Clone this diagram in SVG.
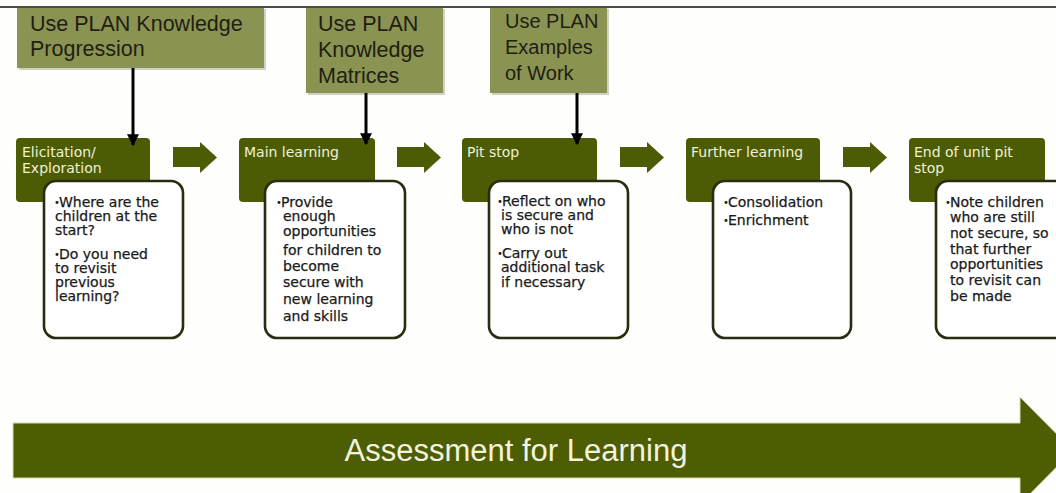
<svg xmlns="http://www.w3.org/2000/svg" width="1056" height="493" viewBox="0 0 1056 493">
  <defs>
    <style>
      .plan { fill: #8a9352; }
      .plan-shadow { fill: #a9ab92; opacity: 0.55; }
      .plan-text { font-family: "Liberation Sans", Arial, sans-serif; font-size: 21.5px; fill: #1f2012; }
      .stage { fill: #4c5c05; }
      .stage-text { font-family: "DejaVu Sans", Verdana, sans-serif; font-size: 14px; fill: #f1f1d6; }
      .notes { fill: #ffffff; stroke: #2a2c10; stroke-width: 2.6; }
      .note-text { font-family: "DejaVu Sans", Verdana, sans-serif; font-size: 14px; fill: #1a1a1a; stroke: #1a1a1a; stroke-width: 0.25; }
      .bullet { font-family: "DejaVu Sans", Verdana, sans-serif; font-size: 10px; fill: #1a1a1a; }
      .step { fill: #4c5c05; }
      .drop { stroke: #000000; stroke-width: 3; fill: none; }
      .band { fill: #4d5d04; stroke: #dcdcb4; stroke-width: 1; }
      .band-text { font-family: "Liberation Sans", Arial, sans-serif; font-size: 31px; fill: #f3f3de; text-anchor: middle; }
    </style>
    <marker id="drop-head" viewBox="0 0 10 10" refX="9" refY="5" markerWidth="4" markerHeight="4" markerUnits="strokeWidth" orient="auto">
      <path d="M0,0 L10,5 L0,10 Z" fill="#000000"/>
    </marker>
  </defs>

  <rect x="0" y="0" width="1056" height="493" fill="#fefefd"/>

  <!-- header rule -->
  <line x1="0" y1="7" x2="1056" y2="7" stroke="#111111" stroke-width="1.6"/>

  <!-- PLAN resource boxes -->
  <g id="plan-progression">
    <rect class="plan-shadow" x="19" y="9" width="247" height="61"/>
    <rect class="plan" x="17" y="8" width="247" height="60"/>
    <text class="plan-text" x="30" y="31">Use PLAN Knowledge</text>
    <text class="plan-text" x="30" y="56">Progression</text>
  </g>

  <g id="plan-matrices">
    <rect class="plan-shadow" x="308" y="9" width="137" height="86"/>
    <rect class="plan" x="306" y="8" width="137" height="85"/>
    <text class="plan-text" x="318" y="31">Use PLAN</text>
    <text class="plan-text" x="318" y="57">Knowledge</text>
    <text class="plan-text" x="318" y="83">Matrices</text>
  </g>

  <g id="plan-examples">
    <rect class="plan-shadow" x="492" y="9" width="117" height="86"/>
    <rect class="plan" x="490" y="8" width="117" height="85"/>
    <text class="plan-text" x="505" y="28" style="font-size:20px">Use PLAN</text>
    <text class="plan-text" x="505" y="54" style="font-size:20px">Examples</text>
    <text class="plan-text" x="505" y="80" style="font-size:20px">of Work</text>
  </g>

  <!-- stage: elicitation -->
  <g id="stage-elicitation">
    <rect class="stage" x="16" y="138" width="134" height="64" rx="4"/>
    <text class="stage-text" x="22" y="157">Elicitation/</text>
    <text class="stage-text" x="22" y="173">Exploration</text>
    <rect class="notes" x="44" y="181" width="139" height="157" rx="12"/>
    <text class="bullet" x="54" y="206">•</text>
    <text class="note-text" x="59" y="207">Where are the</text>
    <text class="note-text" x="55" y="221">children at the</text>
    <text class="note-text" x="55" y="235">start?</text>
    <text class="bullet" x="54" y="258">•</text>
    <text class="note-text" x="59" y="259">Do you need</text>
    <text class="note-text" x="55" y="273">to revisit</text>
    <text class="note-text" x="55" y="287">previous</text>
    <text class="note-text" x="55" y="301">learning?</text>
  </g>

  <!-- stage: main learning -->
  <g id="stage-main-learning">
    <rect class="stage" x="239" y="138" width="136" height="64" rx="4"/>
    <text class="stage-text" x="244" y="157">Main learning</text>
    <rect class="notes" x="265" y="181" width="140" height="157" rx="12"/>
    <text class="bullet" x="276" y="206">•</text>
    <text class="note-text" x="281" y="207">Provide</text>
    <text class="note-text" x="283" y="221">enough</text>
    <text class="note-text" x="283" y="236">opportunities</text>
    <text class="note-text" x="283" y="255">for children to</text>
    <text class="note-text" x="283" y="271">become</text>
    <text class="note-text" x="283" y="287">secure with</text>
    <text class="note-text" x="283" y="304">new learning</text>
    <text class="note-text" x="283" y="321">and skills</text>
  </g>

  <!-- stage: pit stop -->
  <g id="stage-pit-stop">
    <rect class="stage" x="462" y="138" width="135" height="64" rx="4"/>
    <text class="stage-text" x="467" y="157">Pit stop</text>
    <rect class="notes" x="489" y="181" width="139" height="157" rx="12"/>
    <text class="bullet" x="497" y="205">•</text>
    <text class="note-text" x="502" y="206">Reflect on who</text>
    <text class="note-text" x="501" y="220">is secure and</text>
    <text class="note-text" x="501" y="234">who is not</text>
    <text class="bullet" x="497" y="257">•</text>
    <text class="note-text" x="502" y="258">Carry out</text>
    <text class="note-text" x="501" y="272">additional task</text>
    <text class="note-text" x="501" y="287">if necessary</text>
  </g>

  <!-- stage: further learning -->
  <g id="stage-further-learning">
    <rect class="stage" x="686" y="138" width="134" height="64" rx="4"/>
    <text class="stage-text" x="691" y="157">Further learning</text>
    <rect class="notes" x="713" y="181" width="138" height="157" rx="12"/>
    <text class="bullet" x="723" y="206">•</text>
    <text class="note-text" x="728" y="207">Consolidation</text>
    <text class="bullet" x="723" y="224">•</text>
    <text class="note-text" x="728" y="225">Enrichment</text>
  </g>

  <!-- stage: end of unit pit stop -->
  <g id="stage-end-of-unit">
    <rect class="stage" x="909" y="138" width="136" height="64" rx="4"/>
    <text class="stage-text" x="914" y="157">End of unit pit</text>
    <text class="stage-text" x="914" y="173">stop</text>
    <rect class="notes" x="936" y="181" width="140" height="157" rx="12"/>
    <text class="bullet" x="945" y="206">•</text>
    <text class="note-text" x="950" y="207">Note children</text>
    <text class="note-text" x="950" y="222">who are still</text>
    <text class="note-text" x="950" y="238">not secure, so</text>
    <text class="note-text" x="950" y="254">that further</text>
    <text class="note-text" x="950" y="269">opportunities</text>
    <text class="note-text" x="950" y="285">to revisit can</text>
    <text class="note-text" x="950" y="301">be made</text>
  </g>

  <!-- connectors -->
  <g id="connectors">
    <line class="drop" x1="133" y1="68" x2="133" y2="145" marker-end="url(#drop-head)"/>
    <line class="drop" x1="366" y1="93" x2="366" y2="144" marker-end="url(#drop-head)"/>
    <line class="drop" x1="577" y1="93" x2="577" y2="144" marker-end="url(#drop-head)"/>

    <polygon class="step" points="173,147 200,147 200,142 217,157.5 200,173 200,167 173,167"/>
    <polygon class="step" points="397,147 424,147 424,142 441,157.5 424,173 424,167 397,167"/>
    <polygon class="step" points="620,147 647,147 647,142 664,157.5 647,173 647,167 620,167"/>
    <polygon class="step" points="843,147 870,147 870,142 887,157.5 870,173 870,167 843,167"/>
  </g>

  <!-- assessment band -->
  <g id="assessment-for-learning">
    <polygon class="band" points="13,423 1020,423 1020,397 1073,450.5 1020,504 1020,478 13,478"/>
    <text class="band-text" x="516" y="461">Assessment for Learning</text>
  </g>
</svg>
